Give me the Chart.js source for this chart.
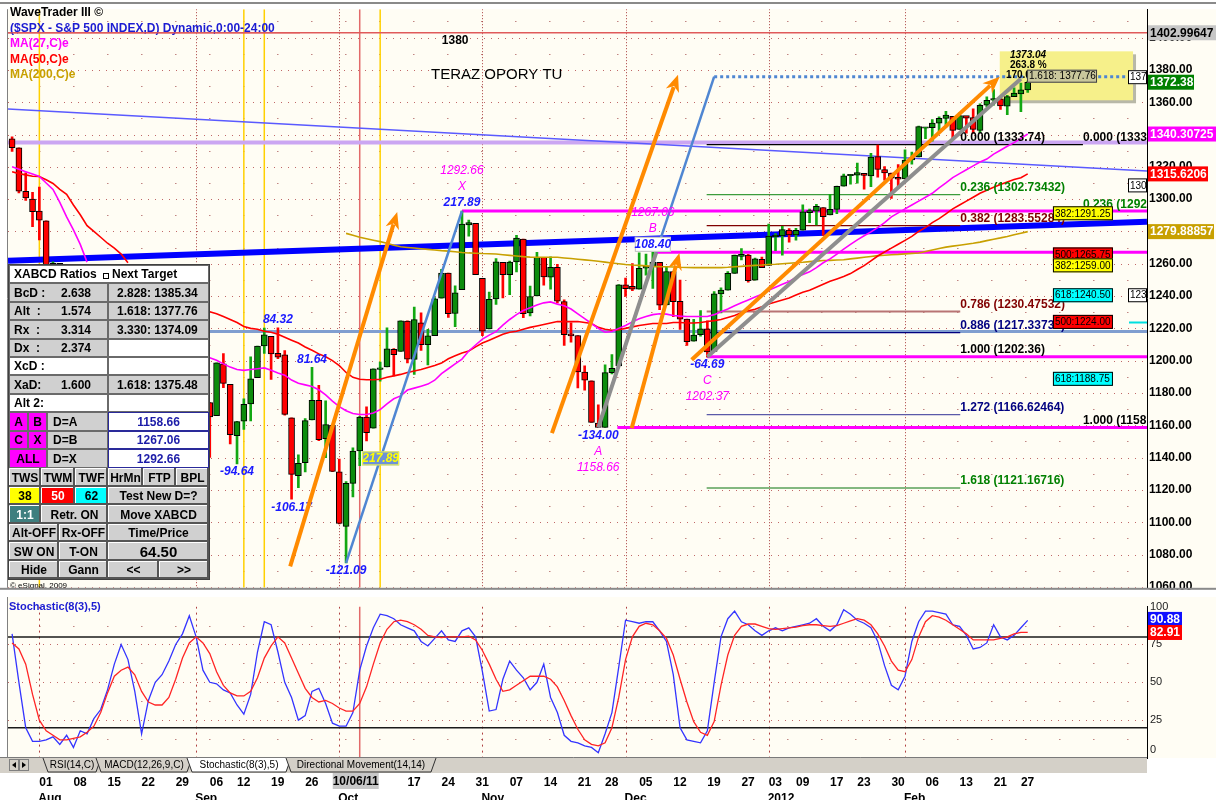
<!DOCTYPE html>
<html>
<head>
<meta charset="utf-8">
<title>WaveTrader III - $SPX</title>
<script src="https://cdn.jsdelivr.net/npm/chart.js@4.4.1/dist/chart.umd.min.js"></script>
<style>
  html, body { margin: 0; padding: 0; background: #fff; }
  #wrap { position: relative; width: 1216px; height: 800px; overflow: hidden; }
  #priceChart { position: absolute; left: 0; top: 0; }
  #stochChart { position: absolute; left: 0; top: 597px; }
</style>
</head>
<body>
<div id="wrap">
  <canvas id="priceChart" width="1216" height="597"></canvas>
  <canvas id="stochChart" width="1216" height="203"></canvas>
</div>
<script>
const dates = [
  '2011-07-26','2011-07-27','2011-07-28','2011-07-29',
  '2011-08-01','2011-08-02','2011-08-03','2011-08-04','2011-08-05',
  '2011-08-08','2011-08-09','2011-08-10','2011-08-11','2011-08-12',
  '2011-08-15','2011-08-16','2011-08-17','2011-08-18','2011-08-19',
  '2011-08-22','2011-08-23','2011-08-24','2011-08-25','2011-08-26',
  '2011-08-29','2011-08-30','2011-08-31',
  '2011-09-01','2011-09-02',
  '2011-09-06','2011-09-07','2011-09-08','2011-09-09',
  '2011-09-12','2011-09-13','2011-09-14','2011-09-15','2011-09-16',
  '2011-09-19','2011-09-20','2011-09-21','2011-09-22','2011-09-23',
  '2011-09-26','2011-09-27','2011-09-28','2011-09-29','2011-09-30',
  '2011-10-03','2011-10-04','2011-10-05','2011-10-06','2011-10-07',
  '2011-10-10','2011-10-11','2011-10-12','2011-10-13','2011-10-14',
  '2011-10-17','2011-10-18','2011-10-19','2011-10-20','2011-10-21',
  '2011-10-24','2011-10-25','2011-10-26','2011-10-27','2011-10-28',
  '2011-10-31',
  '2011-11-01','2011-11-02','2011-11-03','2011-11-04',
  '2011-11-07','2011-11-08','2011-11-09','2011-11-10','2011-11-11',
  '2011-11-14','2011-11-15','2011-11-16','2011-11-17','2011-11-18',
  '2011-11-21','2011-11-22','2011-11-23','2011-11-25',
  '2011-11-28','2011-11-29','2011-11-30',
  '2011-12-01','2011-12-02',
  '2011-12-05','2011-12-06','2011-12-07','2011-12-08','2011-12-09',
  '2011-12-12','2011-12-13','2011-12-14','2011-12-15','2011-12-16',
  '2011-12-19','2011-12-20','2011-12-21','2011-12-22','2011-12-23',
  '2011-12-27','2011-12-28','2011-12-29','2011-12-30',
  '2012-01-03','2012-01-04','2012-01-05','2012-01-06',
  '2012-01-09','2012-01-10','2012-01-11','2012-01-12','2012-01-13',
  '2012-01-17','2012-01-18','2012-01-19','2012-01-20',
  '2012-01-23','2012-01-24','2012-01-25','2012-01-26','2012-01-27',
  '2012-01-30','2012-01-31',
  '2012-02-01','2012-02-02','2012-02-03',
  '2012-02-06','2012-02-07','2012-02-08','2012-02-09','2012-02-10',
  '2012-02-13','2012-02-14','2012-02-15','2012-02-16','2012-02-17',
  '2012-02-21','2012-02-22','2012-02-23','2012-02-24',
  '2012-02-27','2012-02-28'
];

const open = [
  1337.4,1331.7,1304.8,1300.1,
  1292.6,1286.6,1254.3,1260.2,1200.3, 1198.5,1120.2,1171.8,1121.3,1172.9, 1178.9,1204.2,1192.9,1189.6,1140.5, 1123.6,1124.4,1162.2,1176.7,1158.9, 1177.9,1209.8,1213.0,
  1219.1,1203.9, 1174.0,1165.9,1198.0,1185.4, 1153.5,1162.6,1173.3,1189.4,1209.2, 1215.0,1204.5,1203.6,1164.6,1128.8, 1136.9,1163.3,1175.4,1151.7,1159.9,
  1131.2,1097.4,1124.0,1144.1,1165.0, 1158.2,1194.6,1196.2,1207.0,1205.7, 1224.5,1200.8,1223.5,1209.9,1215.4, 1238.7,1254.2,1229.2,1244.0,1284.4, 1285.0,
  1251.0,1219.6,1238.3,1260.8, 1253.2,1261.1,1275.2,1229.6,1240.1, 1263.9,1251.7,1257.8,1236.6,1216.2, 1215.6,1193.0,1187.5,1161.4, 1158.7,1192.6,1196.7,
  1246.9,1246.0, 1244.3,1257.2,1258.1,1260.9,1234.5, 1255.1,1236.8,1225.7,1212.1,1216.1, 1219.7,1205.7,1241.3,1243.7,1254.0, 1265.0,1265.4,1249.8,1262.8,
  1258.9,1277.0,1277.3,1280.9, 1277.8,1280.8,1292.0,1292.5,1294.8, 1290.2,1293.7,1308.1,1314.5, 1315.3,1316.0,1314.4,1326.3,1318.3, 1316.2,1313.5,
  1312.5,1324.2,1326.2, 1344.3,1344.3,1347.0,1350.0,1351.2, 1343.1,1351.3,1350.5,1342.6,1358.1, 1361.2,1362.1,1357.5,1363.5, 1365.2,1367.6
];
const high = [
  1338.5,1331.7,1316.3,1304.2,
  1307.4,1286.6,1261.2,1260.2,1218.1, 1198.5,1172.9,1171.8,1186.3,1189.0, 1204.5,1204.2,1208.5,1189.6,1154.5, 1145.5,1162.4,1178.6,1190.7,1181.2, 1210.1,1220.1,1230.7,
  1229.3,1203.9, 1174.0,1198.6,1204.4,1185.4, 1162.5,1176.4,1202.4,1209.1,1220.1, 1215.0,1220.4,1206.3,1164.6,1141.7, 1164.2,1195.9,1184.7,1175.1,1159.9,
  1139.0,1125.1,1146.1,1165.6,1171.4, 1194.9,1199.2,1220.3,1207.5,1224.6, 1224.6,1233.1,1229.6,1219.4,1239.0, 1256.6,1254.2,1246.3,1292.66,1287.1, 1285.0,
  1251.0,1242.5,1263.2,1260.8, 1261.7,1277.6,1275.2,1246.2,1267.0, 1263.9,1264.3,1259.6,1237.7,1223.5, 1215.6,1196.8,1187.5,1172.7, 1197.4,1203.7,1247.1,
  1251.1,1260.1, 1266.7,1266.0,1267.06,1260.9,1258.3, 1255.1,1249.9,1225.7,1225.6,1231.0, 1224.6,1242.8,1245.1,1255.2,1265.4, 1269.4,1265.9,1263.5,1264.1,
  1284.6,1278.7,1283.1,1281.8, 1282.0,1296.5,1293.8,1296.8,1294.8, 1303.0,1308.1,1315.5,1315.4, 1322.3,1316.0,1328.3,1333.5,1320.1, 1316.2,1321.4,
  1330.5,1329.2,1345.3, 1344.4,1349.2,1351.0,1354.3,1351.2, 1353.4,1351.3,1355.9,1359.0,1363.4, 1367.8,1362.7,1364.2,1368.9, 1371.9,1373.04
];
const low = [
  1329.6,1303.8,1299.2,1282.9,
  1274.7,1254.0,1234.6,1199.5,1168.1, 1119.3,1101.5,1118.0,1121.3,1170.7, 1178.9,1180.5,1184.4,1131.9,1122.1, 1121.1,1121.1,1156.3,1155.1,1135.9, 1177.9,1195.8,1209.4,
  1203.9,1170.6, 1140.1,1165.9,1183.3,1148.4, 1136.1,1157.4,1162.7,1189.4,1204.5, 1188.4,1201.3,1166.2,1114.2,1121.4, 1131.1,1163.3,1150.4,1139.9,1131.3,
  1098.9,1074.77,1115.7,1135.0,1150.3, 1158.2,1187.3,1196.2,1190.6,1205.7, 1198.6,1191.5,1206.3,1197.3,1215.4, 1238.7,1226.8,1221.1,1244.0,1277.0, 1253.2,
  1215.4,1219.6,1234.8,1238.9, 1240.8,1255.0,1226.6,1227.7,1240.1, 1246.7,1244.3,1235.7,1209.4,1211.4, 1183.2,1181.7,1161.8,1158.66, 1158.7,1191.8,1196.7,
  1239.7,1243.4, 1244.3,1253.0,1244.8,1231.5,1234.5, 1227.2,1219.4,1209.5,1212.1,1215.2, 1202.37,1205.7,1229.5,1243.7,1254.0, 1262.3,1248.6,1249.8,1257.5,
  1258.9,1268.1,1265.3,1273.3, 1274.6,1280.8,1285.4,1284.0,1277.6, 1290.2,1291.0,1308.1,1309.2, 1309.9,1306.1,1307.7,1313.6,1311.7, 1300.5,1306.7,
  1312.5,1321.6,1326.2, 1337.5,1335.9,1342.0,1344.6,1337.4, 1343.1,1340.8,1340.8,1341.2,1357.2, 1358.1,1355.5,1352.3,1363.5, 1354.1,1366.0
];
const close = [
  1331.9,1304.9,1300.7,1292.3,
  1286.9,1254.1,1260.3,1200.1,1199.4, 1119.5,1172.5,1120.8,1172.6,1178.8, 1204.5,1192.8,1193.9,1140.7,1123.5, 1123.8,1162.4,1177.6,1159.3,1176.8, 1210.1,1212.9,1218.9,
  1204.4,1174.0, 1165.2,1198.6,1185.9,1154.2, 1162.3,1172.9,1188.7,1209.1,1216.0, 1204.1,1202.1,1166.8,1129.6,1136.4, 1162.9,1175.4,1151.1,1160.4,1131.4,
  1099.2,1124.0,1144.0,1165.0,1155.5, 1194.9,1195.5,1207.3,1203.7,1224.6, 1200.9,1225.4,1209.9,1215.4,1238.3, 1254.2,1229.1,1242.0,1284.6,1285.1, 1253.3,
  1218.3,1237.9,1261.2,1253.2, 1261.1,1275.9,1229.1,1239.7,1263.9, 1251.8,1257.8,1236.9,1216.1,1215.7, 1193.0,1188.0,1161.8,1158.7, 1192.6,1195.2,1247.0,
  1244.6,1244.3, 1257.1,1258.5,1261.0,1234.4,1255.2, 1236.5,1225.7,1211.8,1215.8,1219.7, 1205.4,1241.3,1243.7,1254.0,1265.3, 1265.4,1249.6,1263.0,1257.6,
  1277.1,1277.3,1281.1,1277.8, 1280.7,1292.1,1292.5,1295.5,1289.1, 1293.7,1308.0,1314.5,1315.4, 1316.0,1314.7,1326.1,1318.4,1316.3, 1313.0,1312.4,
  1324.1,1325.5,1344.9, 1344.3,1347.1,1350.0,1352.0,1342.6, 1351.8,1350.5,1343.2,1358.0,1361.2, 1362.2,1357.7,1363.5,1365.7, 1367.6,1372.38
];

// moving averages (null where hidden behind the ratio table)
const ma27 = [
  1320,1318.5,1317,1315.5,1314,1310,1306,1298,1289,1281, 1272,1261,null,null,null,null,null,null,null,null,
  null,null,null,null,null,null,null,null,null,1201.8, 1200.2,1198,1196,1194.5,1194,1194.5,1195,1195.5,1194,1192.4,
  1191,1188,1186,1185,1184,1182,1178.8,1175,1171.5,1169, 1167.3,1166.7,1166.7,1167.6,1169.7,1173.3,1176.4,1178.2,1181.8,1183,
  1184.2,1185.5,1187.9,1192,1195,1198,1201,1206,1209.7,1213.3, 1215.8,1218,1222,1225.5,1228.5,1231,1232.7,1234.5,1235.8,1236.4,
  1235,1234,1232,1229,1226,1223,1220,1217.6,1218,1220, 1221.8,1224,1226,1227.3,1228.5,1229,1228.8,1228,1227.6,1227.3,
  1227.3,1227.3,1227.3,1228.5,1230.3,1232,1234,1235.8,1237.6,1239.4, 1241.2,1243.6,1245.5,1247.3,1249,1251.5,1253.3,1255,1257.6,1260.6,
  1263,1266,1269,1272,1274.8,1277.3,1279.7,1282.4,1285.5,1289, 1291.5,1294,1296.4,1298.8,1301.2,1303.6,1307,1310,1313.3,1315.8,
  1318.2,1320.6,1323,1324.8,1327.9,1330.3,1332.7,1335,1337.6,1340.31
];
const ma50 = [
  1317,1315.8,1315,1314.2,1314,1312,1309.7,1306,1303,1296.4, 1290.3,1283.6,1280,1276.4,1272.7,1269.7,1266,1260.6,null,null,
  null,null,null,null,null,null,null,null,null,1230.3, 1229.1,1227.3,1225.5,1223.6,1221.2,1220,1219.4,1218.2,1217.6,1216.4,
  1214.5,1212.7,1210.9,1208.5,1206.4,1204.2,1202.4,1200,1197,1192.7, 1189.7,1188.5,1188.2,1188.2,1188.5,1189.7,1190.6,1191.5,1192.7,1193.6,
  1194.5,1195.8,1197,1198.5,1201.2,1203,1204.8,1206,1208.5,1210.9, 1212.7,1214.5,1216.4,1217.6,1218.2,1219.4,1220.6,1221.5,1222.4,1223.3,
  1224.2,1224.2,1224.2,1224.2,1223.6,1223,1220.6,1219.4,1218.8,1219.1, 1220,1220.9,1221.8,1222.4,1223,1223,1223,1223.6,1223.6,1223.3,
  1223.3,1223.6,1224.2,1224.8,1225.5,1226.7,1227.9,1229.7,1230.9,1231.8, 1233.3,1235.1,1236.3,1237.6,1238.8,1240.6,1242.4,1243.6,1245.4,1247.3,
  1249.1,1250.6,1252.1,1253.9,1256.4,1258.8,1261.8,1264.8,1267.3,1269.7, 1272.1,1274.5,1276.9,1280,1282.4,1285.5,1287.9,1290.9,1294,1296.4,
  1298.8,1301.2,1303.6,1305.5,1307.3,1309.1,1310.6,1312.1,1313.3,1315.62
];
const ma200 = [
  null,null,null,null,null,null,null,null,null,null, null,null,null,null,null,null,null,null,null,null,
  null,null,null,null,null,null,null,null,null,null, null,null,null,null,null,null,null,null,null,null,
  null,null,null,null,null,null,null,null,null,1278.8, 1277.6,1276.4,1275.5,1274.6,1273.7,1272.7,1271.5,1270.5,1270.1,1269.7,
  1269.3,1268.9,1268.5,1268.1,1267.8,1267.4,1267.0,1266.7,1266.5,1266.3, 1266.2,1266.0,1265.6,1265.2,1264.8,1264.4,1264.1,1264.0,1264.0,1264.0,
  1264.0,1263.6,1263.2,1262.8,1262.4,1262.0,1261.5,1261.0,1260.5,1260.0, 1259.5,1259.2,1259.0,1258.7,1258.4,1258.2,1258.1,1258.0,1257.8,1257.7,
  1257.6,1257.6,1257.6,1257.6,1257.6,1257.8,1258.1,1258.4,1258.7,1259.0, 1259.2,1259.5,1259.7,1260.0,1260.3,1260.6,1260.9,1261.3,1261.6,1262.0,
  1262.1,1262.3,1262.5,1263.0,1263.5,1264.0,1264.5,1265.0,1265.3,1265.6, 1265.8,1266.1,1266.4,1266.7,1267.6,1268.5,1269.4,1270.3,1270.9,1271.5,
  1272.1,1272.7,1273.4,1274.3,1275.2,1276.0,1276.9,1277.9,1278.9,1279.89
];

// Stochastic(8(3),5) lines
const stochK = [
  82,50,20,11,11,12,14,9,15,7, 18,16,26,32,45,62,75,65,44,16,
  38,50,55,64,75,82,94,80,58,50, 49,45,43,35,29,42,70,90,88,70,
  50,40,25,28,44,46,36,23,21,21, 30,58,74,86,95,94,92,88,86,84,
  77,74,79,84,78,77,84,86,80,57, 31,32,52,64,58,53,45,50,62,40,
  30,15,11,10,8,7,3.5,16,30,60, 91,90,89,90,90,84,77,55,20,12,
  11,10,18,50,80,92,97,90,88,84, 81,84,86,84,86,87,88,89,92,87,
  84,88,98,95,91,89,86,77,61,48, 45,54,77,90,97,97,96,95,88,87,
  81,72,73,76,88,80,78,81,86,90.88
];
const stochD = [
  76,72,62,42,25,18,15,12,12,13, 14,17,21,30,43,54,58,60,55,44,
  37,35,35,40,52,66,76,80,76,69, 57,48,43,41,41,44,53,66,74,80,
  76,66,56,46,40,37,38,36,33,31, 31,36,47,62,76,85,90,91,90,88,
  85,81,80,79.5,80,80,80,80.5,78,71, 62,52,44,45,48,51,54,54,54,52,
  47,38,28,19,12,9,8,10,20,40, 65,80,87,89,88,84,79,68,52,37,
  24,17,15,24,48,68,81,87,88.5,88.5, 87,85.5,85,85.5,86,86.5,87.5,88,88,87.5,
  87,87.5,89,90.5,92,91,88,82,74,64, 58,57,65,80,90,94,93,91,88,85,
  82,78,78,78,78,79,80,82,83,82.91
];

const priceTicks = [1060,1080,1100,1120,1140,1160,1180,1200,1220,1240,1260,1280,1300,1320,1340,1360,1380,1400];
const stochTicks = [25, 50, 75, 100];
const tickDates = ['2011-08-01','2011-08-08','2011-08-15','2011-08-22','2011-08-29','2011-09-06','2011-09-12','2011-09-19','2011-09-26',
  '2011-10-17','2011-10-24','2011-10-31','2011-11-07','2011-11-14','2011-11-21','2011-11-28','2011-12-05','2011-12-12','2011-12-19',
  '2011-12-27','2012-01-03','2012-01-09','2012-01-17','2012-01-23','2012-01-30','2012-02-06','2012-02-13','2012-02-21','2012-02-27'];
const monthStarts = ['2011-08-01','2011-09-01','2011-10-03','2011-11-01','2011-12-01','2012-01-03','2012-02-01'];
const monthNames = ['Aug','Sep','Oct','Nov','Dec','2012','Feb'];
const timeLines = ['2011-08-01','2011-09-13','2011-09-16','2011-10-11'];
const cursorDate = '2011-10-06';

// XABCD pattern
const pivotNames = ['X','A','B','C'];
const pivotDates = ['2011-10-27','2011-11-25','2011-12-07','2011-12-19'];
const pivotPrices = [1292.66, 1158.66, 1267.06, 1202.37];
const pivotLineStart = [66, 88.8, 94.5, 102];
const swingDates = ['2011-09-12','2011-09-20','2011-09-22','2011-09-27','2011-10-04','2011-10-27','2011-11-25','2011-12-07','2011-12-19'];
const swingPrices = [1136.07, 1220.39, 1114.22, 1195.86, 1074.77, 1292.66, 1158.66, 1267.06, 1202.37];
const swingText = ['-94.64','84.32','-106.17','81.64','-121.09','217.89','-134.00','108.40','-64.69'];

// fibonacci tools
const fibRatios = ['0.000','0.236','0.382','0.786','0.886','1.000','1.272','1.618'];
const fibPrices = [1333.74, 1302.73432, 1283.55284, 1230.47532, 1217.33732, 1202.36, 1166.62464, 1121.16716];
const fibColors = ['#000000','#008000','#800000','#800000','#000080','#000000','#000080','#008000'];
const fibLineColors = ['#000000','#3c9c3c','#800000','#b87474','#000080','#000000','#5a5aa8','#5aa05a'];
const fib2Ratios = ['0.000','0.236','1.000'];
const fib2Prices = [1333.74, 1292.42, 1158.66];
const fib2Colors = ['#000000','#008000','#000000'];

const targetText = ['382:1291.25','500:1265.75','382:1259.00','618:1240.50','500:1224.00','618:1188.75'];
const targetPrices = [1291.25, 1265.75, 1259.00, 1240.50, 1224.00, 1188.75];
const targetColors = ['#ffff00','#ff0000','#ffff00','#00ffff','#ff0000','#00ffff'];

// drawn lines, [x1, price1, x2, price2] in bar index units
const orangeArrows = [[40.8, 1072.7, 56.5, 1292.1], [79.2, 1155.1, 97.7, 1377.0], [90.9, 1158.2, 97.9, 1266.7], [99.7, 1200.6, 144.9, 1375.7]];
const blueLegs = [[49, 1074.77, 66, 1292.66], [86, 1158.66, 103, 1375.8]];
const grayLegs = [[86, 1158.66, 94.5, 1267.06], [102, 1202.37, 148, 1374.5]];
const thinTrend = [-0.6, 1355.8, 166.5, 1317.4];
const thickTrend = [-0.6, 1261.8, 166.5, 1286.0];

const FONT = 'Arial, "Liberation Sans", sans-serif';
const BG = '#fffdf4';
const X_MIN = -0.6, X_MAX = 166.5;

[open, high, low, close, ma27, ma50, ma200, stochK, stochD].forEach((a, n) => {
  if (a.length !== dates.length) throw new Error('array ' + n + ' has ' + a.length + ' values');
});

const I = d => dates.indexOf(d);

function seg(ctx, x1, y1, x2, y2, color, w, dash) {
  ctx.save();
  ctx.strokeStyle = color; ctx.lineWidth = w; ctx.setLineDash(dash || []);
  ctx.beginPath(); ctx.moveTo(x1, y1); ctx.lineTo(x2, y2); ctx.stroke();
  ctx.restore();
}
function txt(ctx, s, x, y, color, font, align) {
  ctx.save();
  ctx.fillStyle = color; ctx.font = font; ctx.textAlign = align || 'left'; ctx.textBaseline = 'middle';
  ctx.fillText(s, x, y);
  ctx.restore();
}
function tag(ctx, s, x, y, w, h, bg, fg, font, edge, center) {
  ctx.save();
  ctx.fillStyle = bg; ctx.fillRect(x, y - h / 2, w, h);
  if (edge) { ctx.strokeStyle = edge; ctx.lineWidth = 1; ctx.strokeRect(x + 0.5, y - h / 2 + 0.5, w - 1, h - 1); }
  ctx.restore();
  txt(ctx, s, center ? x + w / 2 : x + 2, y + 0.5, fg, font, center ? 'center' : 'left');
}
function arrow(ctx, x1, y1, x2, y2, color, w) {
  const a = Math.atan2(y2 - y1, x2 - x1), L = 17, W = 7;
  const bx = x2 - L * Math.cos(a), by = y2 - L * Math.sin(a);
  seg(ctx, x1, y1, bx + 4 * Math.cos(a), by + 4 * Math.sin(a), color, w);
  ctx.save();
  ctx.fillStyle = color;
  ctx.beginPath(); ctx.moveTo(x2, y2);
  ctx.lineTo(bx + W * Math.sin(a), by - W * Math.cos(a));
  ctx.lineTo(bx + 5 * Math.cos(a), by + 5 * Math.sin(a));
  ctx.lineTo(bx - W * Math.sin(a), by + W * Math.cos(a));
  ctx.closePath(); ctx.fill();
  ctx.restore();
}

function drawTable(ctx) {
  const F = 'bold 12px ' + FONT;
  const rows = [265, 283, 302, 320, 339, 357, 375, 394, 412, 431, 449, 468, 487, 505, 524, 542, 561, 579];
  const GR = '#d0d0d0', WH = '#ffffff';
  const cell = (x1, x2, r, bg, s, opt = {}) => {
    const y1 = rows[r], y2 = rows[r + 1];
    ctx.save();
    ctx.fillStyle = bg; ctx.fillRect(x1, y1, x2 - x1, y2 - y1);
    if (opt.button) {
      seg(ctx, x1 + 0.5, y2 - 1, x1 + 0.5, y1 + 0.5, '#ffffff', 1);
      seg(ctx, x1 + 0.5, y1 + 0.5, x2 - 1, y1 + 0.5, '#ffffff', 1);
      seg(ctx, x2 - 1, y1, x2 - 1, y2, '#555555', 2);
      seg(ctx, x1, y2 - 1, x2, y2 - 1, '#555555', 2);
    } else {
      ctx.strokeStyle = opt.edge || '#6a6a6a'; ctx.lineWidth = 1;
      ctx.strokeRect(x1 + 0.5, y1 + 0.5, x2 - x1 - 1, y2 - y1 - 1);
    }
    ctx.restore();
    if (s) txt(ctx, s, opt.center ? (x1 + x2) / 2 : x1 + (opt.pad || 5), (y1 + y2) / 2 + 1,
      opt.color || '#000', opt.font || F, opt.center ? 'center' : 'left');
  };
  cell(9, 209, 0, WH, 'XABCD Ratios');
  ctx.save(); ctx.strokeStyle = '#000'; ctx.lineWidth = 1; ctx.strokeRect(103.5, 273.5, 5, 5); ctx.restore();
  txt(ctx, 'Next Target', 112, 275, '#000', F);
  const ratioRows = [['BcD :', '2.638', '2.828: 1385.34', GR], ['Alt  :', '1.574', '1.618: 1377.76', GR],
    ['Rx  :', '3.314', '3.330: 1374.09', GR], ['Dx  :', '2.374', '', WH], ['XcD :', '', '', WH],
    ['XaD:', '1.600', '1.618: 1375.48', GR], ['Alt 2:', '', '', WH]];
  ratioRows.forEach(([k, v, t, rb], n) => {
    cell(9, 108, n + 1, (n === 4 || n === 6) ? WH : GR, k);
    if (v) txt(ctx, v, 61, (rows[n + 1] + rows[n + 2]) / 2 + 1, '#000', F);
    cell(108, 209, n + 1, rb, t, { pad: 9 });
  });
  const MG = '#ff00ff';
  cell(9, 28, 8, MG, 'A', { center: true }); cell(28, 47, 8, MG, 'B', { center: true });
  cell(9, 28, 9, MG, 'C', { center: true }); cell(28, 47, 9, MG, 'X', { center: true });
  cell(9, 47, 10, MG, 'ALL', { center: true });
  [['D=A', '1158.66'], ['D=B', '1267.06'], ['D=X', '1292.66']].forEach(([k, v], n) => {
    cell(47, 108, 8 + n, GR, k, { pad: 6 });
    cell(108, 209, 8 + n, WH, v, { center: true, color: '#1c1ca8', edge: '#2a2a9a' });
  });
  const buttons = [
    [11, [[9, 41, 'TWS'], [41, 75, 'TWM'], [75, 108, 'TWF'], [108, 143, 'HrMn'], [143, 176, 'FTP'], [176, 209, 'BPL']]],
    [12, [[9, 41, '38', '#ffff00'], [41, 75, '50', '#ff0000', '#ffffff'], [75, 108, '62', '#00ffff'], [108, 209, 'Test New D=?']]],
    [13, [[9, 41, '1:1', '#3f7f7f', '#ffffff'], [41, 108, 'Retr. ON'], [108, 209, 'Move XABCD']]],
    [14, [[9, 59, 'Alt-OFF'], [59, 108, 'Rx-OFF'], [108, 209, 'Time/Price']]],
    [15, [[9, 59, 'SW ON'], [59, 108, 'T-ON'], [108, 209, '64.50', null, null, 'bold 15px ' + FONT]]],
    [16, [[9, 59, 'Hide'], [59, 108, 'Gann'], [108, 159, '<<'], [159, 209, '>>']]]
  ];
  buttons.forEach(([r, list]) => list.forEach(([x1, x2, s, bg, fg, f]) =>
    cell(x1, x2, r, bg || GR, s, { button: true, center: true, color: fg || '#000', font: f })));
  ctx.save(); ctx.strokeStyle = '#404040'; ctx.lineWidth = 1; ctx.strokeRect(8.5, 264.5, 201, 315); ctx.restore();
  txt(ctx, '\u00a9 eSignal, 2009', 10, 586, '#000', '8px ' + FONT);
}

const pricePlugin = {
  id: 'pricePanel',
  beforeDraw(chart) {
    const { ctx, width, height, chartArea: a } = chart;
    ctx.save();
    ctx.fillStyle = '#ffffff'; ctx.fillRect(0, 0, width, height);
    ctx.fillStyle = BG; ctx.fillRect(a.left, a.top, width - a.left, a.bottom - a.top);
    ctx.restore();
  },
  beforeDatasetsDraw(chart) {
    const { ctx, chartArea: a } = chart;
    const X = v => chart.scales.x.getPixelForValue(v), Y = v => chart.scales.y.getPixelForValue(v);
    ctx.save();
    ctx.beginPath(); ctx.rect(a.left, a.top, a.right - a.left, a.bottom - a.top); ctx.clip();
    for (let v = 1060; v <= 1410; v += 10) {
      const y = Math.round(Y(v)) + 0.5;
      if (v % 20 === 0) seg(ctx, a.left, y, a.right, y, '#c06868', 1, [1, 6]);
      else seg(ctx, X(4), y, a.right, y, '#a04848', 1, [1, 33]);
    }
    monthStarts.forEach(d => { const x = Math.round(X(I(d))) + 0.5; seg(ctx, x, a.top, x, a.bottom, '#a83c3c', 1, [1, 2]); });
    timeLines.forEach(d => seg(ctx, X(I(d)), a.top, X(I(d)), a.bottom, '#ffd000', 1.5));
    seg(ctx, X(I(cursorDate)), a.top, X(I(cursorDate)), a.bottom, '#e26a6a', 1.5);
    seg(ctx, a.left, Y(1402.99647), a.right, Y(1402.99647), '#e05a5a', 1.5);
    seg(ctx, a.left, Y(1335.1), a.right, Y(1335.1), '#cba6f2', 4);
    seg(ctx, X(thinTrend[0]), Y(thinTrend[1]), X(thinTrend[2]), Y(thinTrend[3]), '#5a5aff', 1.5);
    seg(ctx, a.left, Y(1218), a.right, Y(1218), '#809ed0', 3);
    seg(ctx, X(thickTrend[0]), Y(thickTrend[1]), X(thickTrend[2]), Y(thickTrend[3]), '#0000ff', 6);
    // fibonacci levels
    fibPrices.forEach((p, n) => seg(ctx, X(101.9), Y(p), X(139.1), Y(p), fibLineColors[n], n === 3 ? 2 : 1.3));
    seg(ctx, X(139.1), Y(1333.74), X(157.1), Y(1333.74), '#000000', 1.3);
    // XABCD horizontal levels
    pivotPrices.forEach((p, n) => seg(ctx, X(pivotLineStart[n]), Y(p), a.right, Y(p), '#ff00ff', 3));
    // target box
    const bx1 = X(144.9), bx2 = X(164.45), by1 = Y(1391.5), by2 = Y(1361.2);
    ctx.fillStyle = '#b8b8a8'; ctx.fillRect(bx1 + 3, by1 + 3, bx2 - bx1, by2 - by1);
    ctx.fillStyle = '#f6f08a'; ctx.fillRect(bx1, by1, bx2 - bx1, by2 - by1);
    ctx.restore();
  },
  afterDatasetsDraw(chart) {
    const { ctx, chartArea: a } = chart;
    const X = v => chart.scales.x.getPixelForValue(v), Y = v => chart.scales.y.getPixelForValue(v);
    const BI = 'italic bold 12px ' + FONT;
    ctx.save();
    ctx.beginPath(); ctx.rect(a.left, a.top, a.right - a.left, a.bottom - a.top); ctx.clip();
    // fibonacci labels
    fibPrices.forEach((p, n) => {
      const t = fibRatios[n] + ' (' + (n === 0 || n === 5 ? p.toFixed(2) : p.toFixed(5)) + ')';
      txt(ctx, t, X(139.1), Y(p) - 7, fibColors[n], 'bold 12px ' + FONT);
    });
    fib2Prices.forEach((p, n) => txt(ctx, fib2Ratios[n] + ' (' + p.toFixed(2) + ')', X(157.1), Y(p) - 7, fib2Colors[n], 'bold 12px ' + FONT));
    // legs of the pattern
    blueLegs.forEach(l => seg(ctx, X(l[0]), Y(l[1]), X(l[2]), Y(l[3]), '#4f86d2', 2.5));
    seg(ctx, X(103), Y(1375.8), a.right, Y(1375.8), '#4f86d2', 3, [3, 3]);
    grayLegs.forEach(l => seg(ctx, X(l[0]), Y(l[1]), X(l[2]), Y(l[3]), '#8e8e8e', 4));
    // swing labels
    swingDates.forEach((d, n) => {
      const up = swingText[n][0] !== '-';
      const x = X(I(d)), y = Y(swingPrices[n]) + (up ? -8 : 8);
      if (swingText[n] === '108.40') tag(ctx, '', x - 18, y, 36, 15, '#ffffff', '#000', BI, '#c0c0c0');
      txt(ctx, swingText[n], x, y, '#1a1aff', BI, 'center');
    });
    pivotNames.forEach((nm, n) => {
      const x = X(I(pivotDates[n])), y = Y(pivotPrices[n]), top = nm === 'X' || nm === 'B';
      const f = 'italic 12px ' + FONT;
      txt(ctx, nm, x, y + (top ? -24 : 24), '#ff00ff', f, 'center');
      txt(ctx, pivotPrices[n].toFixed(2), x, y + (top ? -40 : 40), '#ff00ff', f, 'center');
    });
    tag(ctx, '217.89', X(54) - 18, Y(1139.5), 37, 14, '#6d92d8', '#ffff00', BI, '#ffff40', true);
    orangeArrows.forEach(l => arrow(ctx, X(l[0]), Y(l[1]), X(l[2]), Y(l[3]), '#ff8a00', 4));
    // target box text
    txt(ctx, '1373.04', X(146.4), Y(1389.1), '#000', 'bold italic 10px ' + FONT);
    txt(ctx, '263.8 %', X(146.4), Y(1383.0), '#000', 'bold 10px ' + FONT);
    txt(ctx, '170.0', X(145.8), Y(1376.4), '#000', 'bold 10px ' + FONT);
    tag(ctx, '1.618: 1377.76', X(148.9), Y(1376.1), 70, 13, '#c9c79c', '#000', '10px ' + FONT, '#404040');
    targetPrices.forEach((p, n) => tag(ctx, targetText[n], X(152.7), Y(p), 60, 14, targetColors[n], '#000', '10px ' + FONT, '#000'));
    [['137', 1375.48], ['130', 1308.5], ['123', 1240.5]].forEach(([s, p]) => tag(ctx, s, a.right - 19, Y(p), 19, 14, '#ffffff', '#000', '10px ' + FONT, '#000'));
    seg(ctx, a.right - 18, Y(1223.6), a.right, Y(1223.6), '#00e0e0', 2);
    txt(ctx, '1380', X(65), Y(1398.2), '#000', 'bold 12px ' + FONT, 'center');
    txt(ctx, 'TERAZ OPORY TU', X(71.1), Y(1377), '#000', '15px ' + FONT, 'center');
    ctx.restore();
  },
  afterDraw(chart) {
    const { ctx, chartArea: a, width } = chart;
    const Y = v => chart.scales.y.getPixelForValue(v);
    const B = 'bold 12px ' + FONT;
    drawTable(ctx);
    txt(ctx, 'WaveTrader III \u00a9', 10, 13, '#000', B);
    txt(ctx, '($SPX - S&P 500 INDEX,D) Dynamic,0:00-24:00', 10, 29, '#1c1cd2', B);
    seg(ctx, a.left, Y(1402.99647), 300, Y(1402.99647), 'rgba(224,90,90,0.8)', 1.5);
    txt(ctx, 'MA(27,C)e', 10, 44, '#ff00ff', B);
    txt(ctx, 'MA(50,C)e', 10, 60, '#ff0000', B);
    txt(ctx, 'MA(200,C)e', 10, 75, '#c8a000', B);
    const R = a.right + 1;
    tag(ctx, '1402.99647', R, Y(1402.99647), 68, 15, '#c6c6c6', '#000', B);
    tag(ctx, '1372.38', R, Y(1372.38), 46, 15, '#008000', '#ffffff', B);
    tag(ctx, '1340.30725', R, Y(1340.30725), 68, 15, '#ff00ff', '#ffffff', B);
    tag(ctx, '1315.6206', R, Y(1315.6206), 60, 15, '#ff0000', '#ffffff', B);
    tag(ctx, '1279.88857', R, Y(1279.88857), 66, 15, '#c8a000', '#ffffff', B);
    // frame
    ctx.save();
    ctx.fillStyle = '#8a8a8a';
    ctx.fillRect(0, a.bottom, width, 2);
    ctx.fillRect(0, 2, width, 2);
    ctx.restore();
    seg(ctx, 7.5, a.top, 7.5, a.bottom, '#808080', 1);
  }
};

const stochPlugin = {
  id: 'stochPanel',
  beforeDraw(chart) {
    const { ctx, width, height, chartArea: a } = chart;
    ctx.save();
    ctx.fillStyle = '#ffffff'; ctx.fillRect(0, 0, width, height);
    ctx.fillStyle = BG; ctx.fillRect(a.left, 0, width - a.left, a.bottom);
    ctx.restore();
  },
  beforeDatasetsDraw(chart) {
    const { ctx, chartArea: a } = chart;
    const X = v => chart.scales.x.getPixelForValue(v), Y = v => chart.scales.y.getPixelForValue(v);
    ctx.save();
    ctx.beginPath(); ctx.rect(a.left, a.top, a.right - a.left, a.bottom - a.top); ctx.clip();
    [25, 50, 75].forEach(v => { const y = Math.round(Y(v)) + 0.5; seg(ctx, a.left, y, a.right, y, '#c06868', 1, [1, 6]); });
    [12.5, 37.5, 62.5, 87.5].forEach(v => { const y = Math.round(Y(v)) + 0.5; seg(ctx, X(4), y, a.right, y, '#a04848', 1, [1, 33]); });
    monthStarts.forEach(d => { const x = Math.round(X(I(d))) + 0.5; seg(ctx, x, a.top, x, a.bottom, '#b04040', 1, [2, 4]); });
    seg(ctx, X(I(cursorDate)), a.top, X(I(cursorDate)), a.bottom, '#e26a6a', 1.5);
    seg(ctx, a.left, Y(80), a.right, Y(80), '#1a1a1a', 1.5);
    seg(ctx, a.left, Y(20), a.right, Y(20), '#1a1a1a', 1.5);
    ctx.restore();
  },
  afterDraw(chart) {
    const { ctx, chartArea: a } = chart;
    const X = v => chart.scales.x.getPixelForValue(v), Y = v => chart.scales.y.getPixelForValue(v);
    const B = 'bold 12px ' + FONT;
    txt(ctx, 'Stochastic(8(3),5)', 9, 10, '#1c1cd2', 'bold 11px ' + FONT);
    // the zero label sits just above the panel bottom
    txt(ctx, '0', a.right + 3, Y(5), '#222', '11px ' + FONT);
    tag(ctx, stochK[stochK.length - 1].toFixed(2), a.right + 1, Y(stochK[stochK.length - 1]) - 1, 34, 15, '#1010ff', '#ffffff', B);
    tag(ctx, stochD[stochD.length - 1].toFixed(2), a.right + 1, Y(stochD[stochD.length - 1]), 34, 15, '#ff0000', '#ffffff', B);
    // indicator tabs
    const top = a.bottom - 1, h = 16;
    ctx.save();
    ctx.fillStyle = '#d4d0c8'; ctx.fillRect(0, top, a.right, h);
    ctx.restore();
    seg(ctx, 0, top + 0.5, a.right, top + 0.5, '#7a7a7a', 1);
    [[9, true], [19, false]].forEach(([x, left]) => {
      ctx.save();
      ctx.fillStyle = '#d4d0c8'; ctx.fillRect(x, top + 2, 10, 12);
      ctx.strokeStyle = '#808080'; ctx.strokeRect(x + 0.5, top + 2.5, 9, 11);
      ctx.fillStyle = '#000'; ctx.beginPath();
      if (left) { ctx.moveTo(x + 3, top + 8); ctx.lineTo(x + 7, top + 5); ctx.lineTo(x + 7, top + 11); }
      else { ctx.moveTo(x + 7, top + 8); ctx.lineTo(x + 3, top + 5); ctx.lineTo(x + 3, top + 11); }
      ctx.fill(); ctx.restore();
    });
    [['RSI(14,C)', 48, 96], ['MACD(12,26,9,C)', 101, 187], ['Stochastic(8(3),5)', 192, 286, true], ['Directional Movement(14,14)', 291, 431]].forEach(([s, x1, x2, on]) => {
      ctx.save();
      ctx.beginPath(); ctx.moveTo(x1 - 5, top + 1); ctx.lineTo(x1, top + h - 1); ctx.lineTo(x2, top + h - 1); ctx.lineTo(x2 + 5, top + 1);
      ctx.fillStyle = on ? '#ffffff' : '#d4d0c8'; ctx.fill();
      ctx.strokeStyle = '#303030'; ctx.lineWidth = 1; ctx.stroke();
      ctx.restore();
      txt(ctx, s, (x1 + x2) / 2, top + h / 2, '#000', '10px ' + FONT, 'center');
    });
    // cursor date and month names
    const cx = X(I(cursorDate)) - 4;
    tag(ctx, '10/06/11', cx - 23, top + h + 8, 46, 16, '#c8c8c8', '#000', B, null, true);
    monthStarts.forEach((d, n) => {
      ctx.save();
      ctx.fillStyle = '#000'; ctx.font = B; ctx.textBaseline = 'top';
      ctx.fillText(monthNames[n], X(I(d)) - 1, top + h + 20);
      ctx.restore();
    });
    seg(ctx, 7.5, 0, 7.5, a.bottom, '#808080', 1);
  }
};

const up = i => close[i] >= open[i];

new Chart(document.getElementById('priceChart'), {
  type: 'bar',
  data: {
    datasets: [
      { type: 'line', label: 'MA(27,C)e', data: ma27.map((v, i) => ({ x: i, y: v })), borderColor: '#ff00ff', borderWidth: 1.6, pointRadius: 0, order: 0 },
      { type: 'line', label: 'MA(50,C)e', data: ma50.map((v, i) => ({ x: i, y: v })), borderColor: '#ff0000', borderWidth: 1.6, pointRadius: 0, order: 0 },
      { type: 'line', label: 'MA(200,C)e', data: ma200.map((v, i) => ({ x: i, y: v })), borderColor: '#c8a000', borderWidth: 1.6, pointRadius: 0, order: 0 },
      {
        label: 'wick', data: high.map((h, i) => ({ x: i, y: [low[i], h] })),
        backgroundColor: c => up(c.dataIndex) ? '#12a812' : '#ff0000',
        barThickness: 2, grouped: false, order: 2
      },
      {
        label: '$SPX', data: open.map((o, i) => {
          const lo = Math.min(o, close[i]), hi = Math.max(o, close[i]);
          return { x: i, y: hi - lo < 0.8 ? [lo - 0.4, hi + 0.4] : [lo, hi] };
        }),
        backgroundColor: c => up(c.dataIndex) ? '#0c8c0c' : '#ff0000',
        borderColor: '#000', borderWidth: 1, borderSkipped: false,
        barThickness: 6, grouped: false, order: 1
      }
    ]
  },
  options: {
    responsive: false, animation: false, events: [],
    layout: { padding: { left: 8, right: 0, top: 4, bottom: 2 } },
    plugins: { legend: { display: false }, tooltip: { enabled: false } },
    scales: {
      x: { type: 'linear', min: X_MIN, max: X_MAX, offset: false, display: false },
      y: {
        position: 'right', min: 1059.39, max: 1417.58,
        afterFit: s => { s.width = 69; },
        afterBuildTicks: s => { s.ticks = priceTicks.map(v => ({ value: v })); },
        grid: { display: false, drawTicks: false },
        border: { display: true, color: '#000', width: 1 },
        ticks: { padding: 2, color: '#000', font: { family: FONT, size: 12, weight: 'bold' }, callback: v => Number(v).toFixed(2) }
      }
    }
  },
  plugins: [pricePlugin]
});

new Chart(document.getElementById('stochChart'), {
  type: 'line',
  data: {
    datasets: [
      { label: '%K', data: stochK.map((v, i) => ({ x: i, y: v })), borderColor: '#3434ff', borderWidth: 1.3, pointRadius: 0, order: 2 },
      { label: '%D', data: stochD.map((v, i) => ({ x: i, y: v })), borderColor: '#ff2424', borderWidth: 1.3, pointRadius: 0, order: 1 }
    ]
  },
  options: {
    responsive: false, animation: false, events: [],
    layout: { padding: { left: 8, right: 0, top: 0, bottom: 0 } },
    plugins: { legend: { display: false }, tooltip: { enabled: false } },
    scales: {
      x: {
        type: 'linear', min: X_MIN, max: X_MAX, offset: false,
        afterFit: s => { s.height = 42; },
        afterBuildTicks: s => { s.ticks = tickDates.map(d => ({ value: I(d) })); },
        grid: { display: false, drawTicks: false },
        border: { display: false },
        ticks: { autoSkip: false, maxRotation: 0, align: 'start', padding: 17, color: '#000', font: { family: FONT, size: 12, weight: 'bold' }, callback: v => dates[v] ? dates[v].slice(8) : '' }
      },
      y: {
        position: 'right', min: 0, max: 100,
        afterFit: s => { s.width = 69; },
        afterBuildTicks: s => { s.ticks = stochTicks.map(v => ({ value: v })); },
        grid: { display: false, drawTicks: false },
        border: { display: true, color: '#000', width: 1 },
        ticks: { padding: 3, color: '#222', font: { family: FONT, size: 11 }, callback: v => String(v) }
      }
    }
  },
  plugins: [stochPlugin]
});
</script>
</body>
</html>
